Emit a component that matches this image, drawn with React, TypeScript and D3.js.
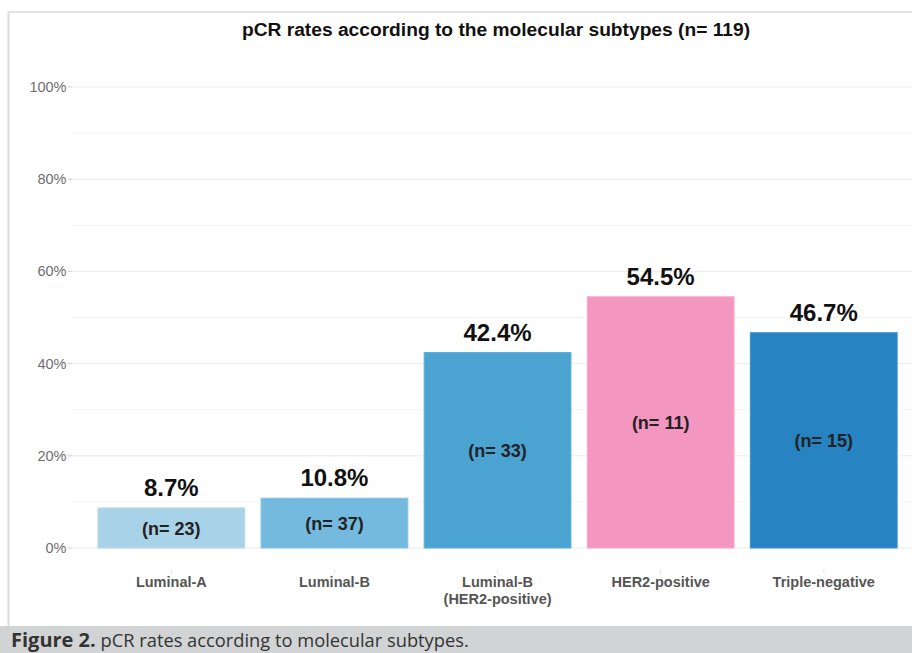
import React from "react";
import * as d3 from "d3";

const categories = ["Luminal-A", "Luminal-B", "Luminal-B\n(HER2-positive)", "HER2-positive", "Triple-negative"];
const rates = [8.7, 10.8, 42.4, 54.5, 46.7];
const counts = [23, 37, 33, 11, 15];
const colors = ["#a8d2e8", "#74b9de", "#4ba3d2", "#f396c0", "#2883c3"];
const strokes = ["#b6dbee", "#85c3e4", "#5cb0db", "#f6a9cc", "#3a93d0"];
const majorTicks = [0, 20, 40, 60, 80, 100];
const minorTicks = [10, 30, 50, 70, 90];

const W = 912;
const H = 653;
const chartFont = "'Liberation Sans', Arial, Helvetica, sans-serif";

export default function App() {
  const y = d3.scaleLinear().domain([0, 100]).range([548, 87]);
  const x = d3
    .scaleBand<string>()
    .domain(categories)
    .range([89.8, 905.3])
    .paddingInner(0.1)
    .paddingOuter(0.05);
  const gridX0 = 72;
  const gridX1 = 912;

  return (
    <svg
      width={W}
      height={H}
      style={{ position: "absolute", left: 0, top: 0, background: "#fff" }}
      xmlns="http://www.w3.org/2000/svg"
    >
      {/* frame */}
      <rect x={0} y={0} width={W} height={H} fill="#fff" />
      <line x1={8.5} y1={11} x2={8.5} y2={626} stroke="#dcdcdc" strokeWidth={2} />
      <line x1={8} y1={12} x2={W} y2={12} stroke="#e2e2e2" strokeWidth={2} />

      {/* title */}
      <text
        x={496}
        y={36}
        textAnchor="middle"
        fontFamily={chartFont}
        fontWeight="bold"
        fontSize={19.2}
        fill="#111"
      >
        pCR rates according to the molecular subtypes (n= 119)
      </text>

      {/* grid */}
      {minorTicks.map((t) => (
        <line key={"mi" + t} x1={gridX0} x2={gridX1} y1={y(t)} y2={y(t)} stroke="#f4f4f4" strokeWidth={1} />
      ))}
      {majorTicks.map((t) => (
        <g key={"ma" + t}>
          <line x1={gridX0} x2={gridX1} y1={y(t)} y2={y(t)} stroke="#ececec" strokeWidth={1} />
          <line x1={68} x2={72} y1={y(t)} y2={y(t)} stroke="#cfcfcf" strokeWidth={1} />
          <text
            x={66.5}
            y={y(t)}
            dy="0.35em"
            textAnchor="end"
            fontFamily={chartFont}
            fontSize={14.5}
            fill="#6e6e6e"
          >
            {t + "%"}
          </text>
        </g>
      ))}

      {/* bars */}
      {categories.map((c, i) => {
        const bx = x(c) as number;
        const bw = x.bandwidth();
        const top = y(rates[i]);
        const base = y(0);
        const cx = bx + bw / 2;
        const lines = c.split("\n");
        return (
          <g key={c}>
            <rect
              x={bx}
              y={top}
              width={bw}
              height={base - top}
              fill={colors[i]}
              stroke={strokes[i]}
              strokeWidth={1}
            />
            <text
              x={cx}
              y={top - 12}
              textAnchor="middle"
              fontFamily={chartFont}
              fontWeight="bold"
              fontSize={24}
              fill="#111"
            >
              {rates[i].toFixed(1) + "%"}
            </text>
            <text
              x={cx}
              y={(top + base) / 2}
              dy="0.38em"
              textAnchor="middle"
              fontFamily={chartFont}
              fontWeight="bold"
              fontSize={18}
              fill="#222"
            >
              {"(n= " + counts[i] + ")"}
            </text>
            <line x1={cx} x2={cx} y1={569} y2={573} stroke="#e4e4e4" strokeWidth={1} />
            {lines.map((l, j) => (
              <text
                key={j}
                x={cx}
                y={587 + j * 16.5}
                textAnchor="middle"
                fontFamily={chartFont}
                fontWeight="bold"
                fontSize={14.5}
                fill="#555"
              >
                {l}
              </text>
            ))}
          </g>
        );
      })}

      {/* caption band */}
      <rect x={0} y={626} width={W} height={H - 626} fill="#d1d3d4" />
      <text x={11} y={647} fontFamily="'Open Sans', sans-serif" fill="#333">
        <tspan fontWeight="bold" fontSize={20}>Figure 2.</tspan>
        <tspan fontSize={18.3}> pCR rates according to molecular subtypes.</tspan>
      </text>
    </svg>
  );
}
